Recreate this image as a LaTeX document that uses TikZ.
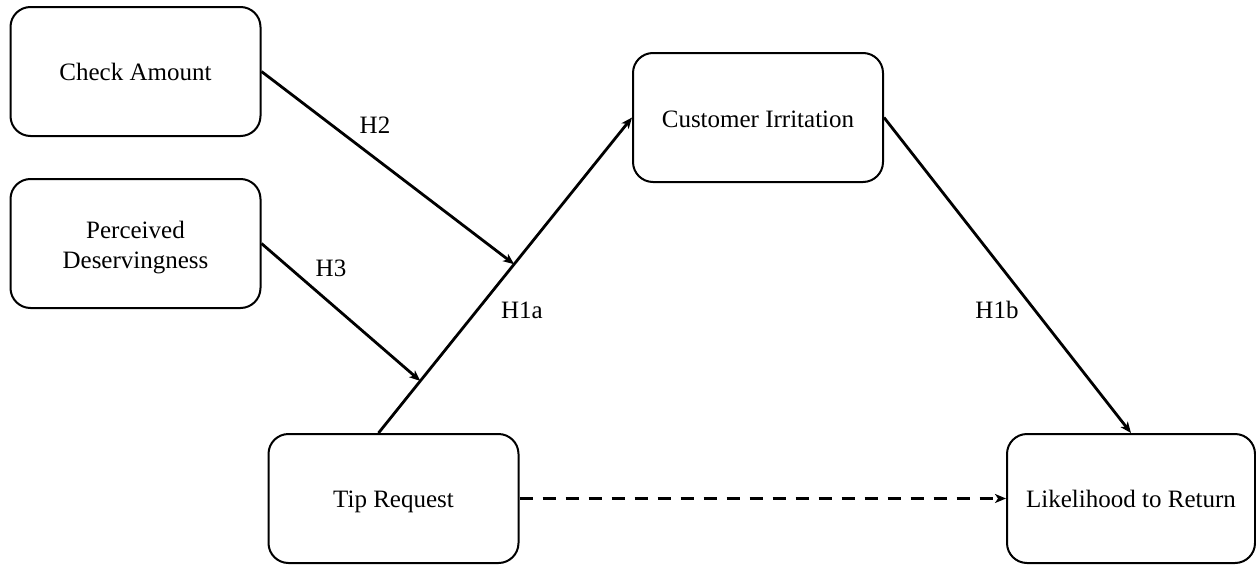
\documentclass[tikz,border=0pt]{standalone}
\usepackage{fontspec}
\setmainfont{Liberation Serif}
\usetikzlibrary{arrows.meta,calc}
\newcommand{\lowered}[2]{\raisebox{-#1}[\height][\depth]{#2}}
\begin{document}
\begin{tikzpicture}[x=1pt,y=-1pt,
  construct/.style={draw=black,line width=2pt,rounded corners=20pt,
    minimum width=250pt,minimum height=129pt,inner sep=0pt,align=center,
    font=\fontsize{25}{30}\selectfont},
  path/.style={line width=2.8pt,-{Stealth[length=11pt,width=9pt,inset=3pt]}},
  hyp/.style={font=\fontsize{25}{30}\selectfont,inner sep=0pt}]
\useasboundingbox (0,0) rectangle (1256,565);
\node[construct] (check) at (135.5,71.5) {Check Amount};
\node[construct] (deserve) at (135.5,243.5)
  {\lowered{4pt}{\begin{tabular}{@{}c@{}}Perceived\\Deservingness\end{tabular}}};
\node[construct] (irr) at (758,117.5) {\lowered{2pt}{Customer Irritation}};
\node[construct] (tip) at (393.5,498.5) {\lowered{3pt}{Tip Request}};
\node[construct,minimum width=248pt] (ret) at (1131,498.5) {Likelihood to Return};
% main mediation paths
\coordinate (h1start) at ([xshift=-15pt]tip.north);
\draw[path] (h1start) -- (irr.west);
\draw[path] (irr.east) -- (ret.north);
% moderators pointing onto the H1a path
\draw[path] (check.east) -- ($(h1start)!0.535!(irr.west)$);
\draw[path] (deserve.east) -- ($(h1start)!0.165!(irr.west)$);
% direct effect
\draw[path,dash pattern=on 13pt off 10pt] (tip.east) -- (ret.west);
% hypothesis labels
\node[hyp] (lh2) at (375,125) {H2};
\node[hyp] (lh3) at (331,268) {H3};
\node[hyp] (lh1a) at (522,310) {H1a};
\node[hyp] (lh1b) at (997,310) {H1b};
\end{tikzpicture}
\end{document}
